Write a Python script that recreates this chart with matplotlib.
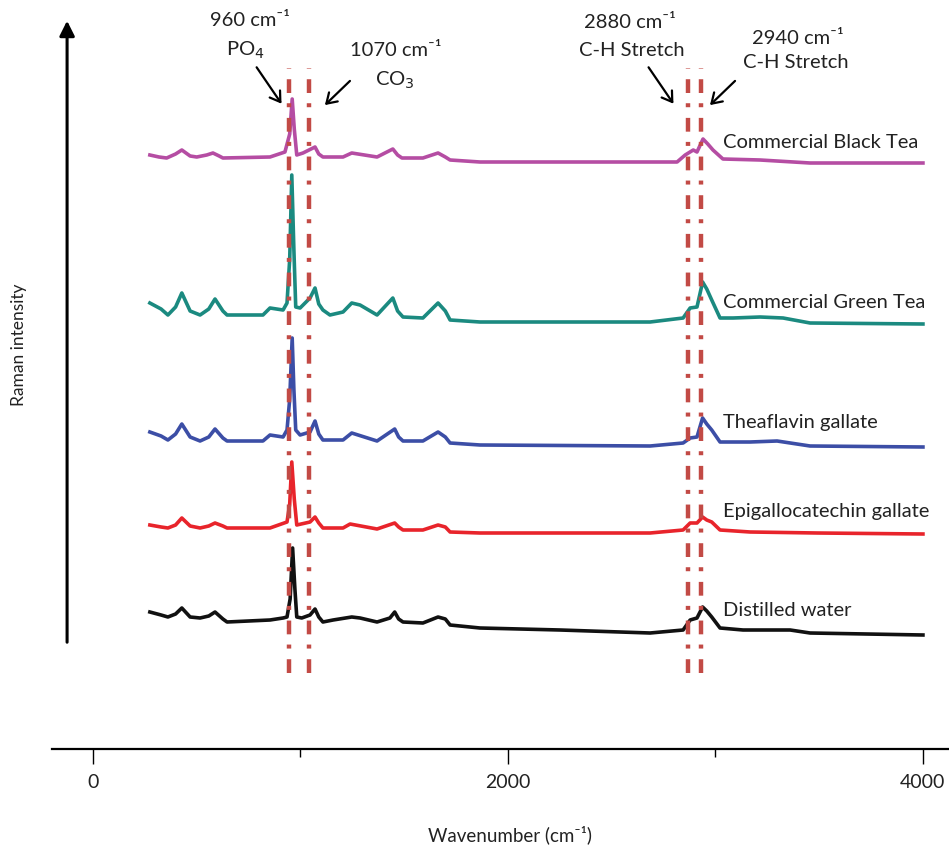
import matplotlib
matplotlib.use("Agg")
import matplotlib.pyplot as plt

plt.rcParams['font.family'] = ['Lato', 'DejaVu Sans']

# spectra: wavenumber (cm-1) and stacked intensity (a.u.)
WATER_X = [276, 330, 363, 400, 430, 470, 518, 560, 590, 628, 648, 855, 918, 937, 952, 964,
           975, 984, 1008, 1048, 1072, 1090, 1110, 1159, 1249, 1289, 1371, 1433, 1456, 1475,
           1496, 1592, 1665, 1700, 1723, 1867, 2253, 2687, 2846, 2880, 2913, 2940, 2960,
           2984, 3024, 3135, 3362, 3458, 4002]
WATER_Y = [137, 134, 132, 135, 141, 132, 131, 133, 137, 130, 127, 129, 131, 132, 150, 201,
           160, 132, 131, 134, 140, 132, 127, 129, 132, 131, 127, 131, 137, 130,
           127, 126, 132, 130, 124, 121, 119, 116, 119, 129, 131, 142, 138,
           132, 121, 119, 119, 116, 114]

EGCG_X = [276, 330, 363, 400, 430, 470, 518, 560, 590, 628, 648, 855, 937, 950, 960, 972,
          984, 1048, 1072, 1090, 1110, 1207, 1241, 1371, 1456, 1475, 1496, 1592, 1665, 1700,
          1723, 1867, 2687, 2846, 2880, 2913, 2940, 2960, 2984, 3024, 3169, 3492, 4002]
EGCG_Y = [224, 222, 221, 224, 231, 223, 221, 223, 226, 223, 221, 221, 227, 245, 287, 250,
          224, 227, 232, 226, 221, 221, 225, 220, 226, 222, 219, 219, 224, 222,
          217, 216, 216, 219, 226, 226, 232, 229, 227, 219, 217, 216, 215]

TF_X = [276, 330, 363, 400, 430, 470, 518, 560, 590, 628, 648, 821, 855, 918, 937, 950,
        962, 970, 979, 1000, 1048, 1072, 1090, 1110, 1207, 1249, 1371, 1456, 1475, 1496,
        1592, 1665, 1700, 1723, 1867, 2687, 2846, 2880, 2913, 2940, 2960, 2984, 3024,
        3169, 3299, 3458, 4002]
TF_Y = [317, 313, 309, 315, 325, 312, 308, 312, 320, 311, 308, 308, 314, 312, 319, 350,
        411, 360, 319, 314, 317, 328, 315, 309, 309, 316, 308, 320, 312, 308,
        308, 317, 312, 306, 304, 303, 306, 311, 312, 331, 325, 319, 307,
        307, 308, 303, 302]

GREEN_X = [276, 330, 363, 400, 430, 470, 518, 560, 590, 628, 648, 821, 855, 918, 937, 950,
           960, 970, 979, 1000, 1048, 1072, 1090, 1110, 1144, 1207, 1249, 1289, 1371, 1447,
           1470, 1496, 1592, 1665, 1700, 1723, 1867, 2687, 2846, 2880, 2913, 2940, 2960,
           2984, 3024, 3087, 3217, 3328, 3458, 4002]
GREEN_Y = [446, 440, 434, 442, 456, 438, 434, 440, 450, 438, 434, 434, 441, 439, 446, 490,
           574, 500, 442, 441, 451, 461, 445, 439, 434, 437, 446, 444, 434, 451,
           438, 432, 431, 446, 438, 429, 427, 427, 431, 441, 442, 467, 460,
           449, 431, 431, 432, 431, 426, 425]

BLACK_X = [276, 320, 357, 400, 430, 470, 502, 550, 580, 610, 628, 855, 927, 950, 962, 972,
           984, 1014, 1072, 1090, 1110, 1207, 1249, 1371, 1447, 1470, 1491, 1592, 1665,
           1700, 1723, 1867, 2817, 2856, 2895, 2913, 2942, 2965, 2990, 3038, 3217, 3458, 4002]
BLACK_Y = [594, 592, 591, 595, 599, 593, 592, 594, 596, 593, 591, 592, 597, 615, 650, 620,
           594, 596, 602, 595, 592, 592, 596, 592, 600, 594, 591, 591, 596,
           592, 589, 587, 587, 594, 599, 597, 610, 605, 599, 590, 589, 586, 586]

SPECTRA = [
    ("Commercial Black Tea", BLACK_X, BLACK_Y, "#b54da3"),
    ("Commercial Green Tea", GREEN_X, GREEN_Y, "#1b8a80"),
    ("Theaflavin gallate", TF_X, TF_Y, "#3c4ea6"),
    ("Epigallocatechin gallate", EGCG_X, EGCG_Y, "#e8242b"),
    ("Distilled water", WATER_X, WATER_Y, "#111111"),
]
LABEL_Y = [607, 447, 327, 237, 139]

# marker lines (as drawn) and their annotations
MARK_X = [947, 1043, 2871, 2931]
NOTES = [
    ("960 cm\u207b\u00b9", "PO$_4$", (760, 729), (735, 699), (783, 684), (918, 643)),
    ("1070 cm\u207b\u00b9", "CO$_3$", (1462, 699), (1458, 669), (1250, 670), (1110, 642)),
    ("2880 cm\u207b\u00b9", "C-H Stretch", (2590, 727), (2600, 699), (2672, 684), (2807, 643)),
    ("2940 cm\u207b\u00b9", "C-H Stretch", (3400, 711), (3390, 686), (3106, 670), (2966, 642)),
]
INK = "#222222"


def main():
    fig = plt.figure(figsize=(9.49, 8.5), dpi=100)
    ax = fig.add_axes([52 / 949, 1 - 749 / 850, 897 / 949, 749 / 850])
    ax.set_xlim(-195.7, 4127.6)
    ax.set_ylim(0, 749)

    for (name, xs, ys, col), ly in zip(SPECTRA, LABEL_Y):
        ax.plot(xs, ys, color=col, lw=2.6, solid_joinstyle="round", zorder=3)
        ax.text(3037, ly, name, fontsize=14.5, color=INK, va="center", ha="left")

    ax.vlines(MARK_X, 76, 681, colors="#c24a45", lw=3.2,
              linestyles=[(0, (3.1, 2.4, 0.9, 2.3))], zorder=4)

    for top, bot, pt, pb, a0, a1 in NOTES:
        ax.text(*pt, top, fontsize=14.5, ha="center", va="center", color=INK)
        ax.text(*pb, bot, fontsize=14.5, ha="center", va="center", color=INK)
        ax.annotate("", xy=a1, xytext=a0,
                    arrowprops=dict(arrowstyle="->,head_length=0.7,head_width=0.45",
                                    color="black", lw=1.6))

    # vertical intensity arrow instead of a y axis
    ax.annotate("", xy=(-123, 731), xytext=(-123, 104), annotation_clip=False,
                arrowprops=dict(arrowstyle="-|>,head_length=0.9,head_width=0.45",
                                color="black", lw=2.2))
    ax.text(-357, 404, "Raman intensity", rotation=90, fontsize=12.5, ha="center",
            va="center", clip_on=False, color=INK)

    for s in ("top", "right", "left"):
        ax.spines[s].set_visible(False)
    ax.spines["bottom"].set_linewidth(1.6)
    ax.set_yticks([])
    ax.set_xticks([0, 2000, 4000])
    ax.set_xticks([1000, 3000], minor=True)
    ax.tick_params(axis="x", which="major", length=11, width=1, pad=7, labelsize=14,
                   labelcolor=INK)
    ax.tick_params(axis="x", which="minor", length=6, width=1)
    fig.text(510 / 949, 1 - 835 / 850, "Wavenumber (cm\u207b\u00b9)", fontsize=13.5,
             ha="center", va="center", color=INK)

    fig.savefig("out.png", dpi=100)
    plt.close(fig)


if __name__ == "__main__":
    main()
